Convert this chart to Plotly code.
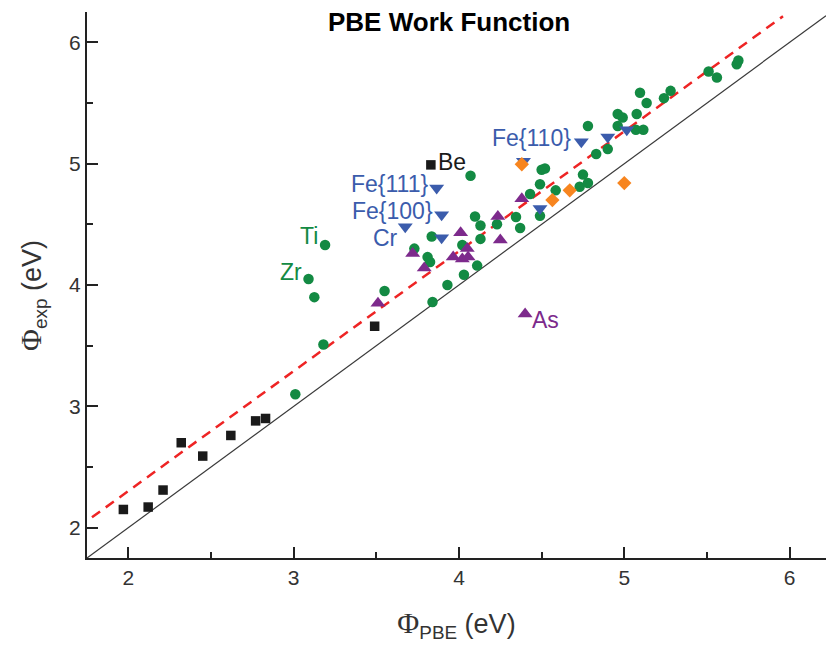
import plotly.graph_objects as go

# ---- data ----
square_x = [1.97, 2.12, 2.21, 2.32, 2.45, 2.62, 2.77, 2.83, 3.49, 3.83]
square_y = [2.15, 2.17, 2.31, 2.70, 2.59, 2.76, 2.88, 2.90, 3.66, 4.99]

circle_x = [3.01, 3.18, 3.125, 3.09, 3.19, 3.55, 3.73, 3.81, 3.825, 3.84, 3.835, 3.93,
            4.03, 4.02, 4.11, 4.13, 4.13, 4.097, 4.23, 4.345, 4.37, 4.49, 4.07, 4.43,
            4.49, 4.585, 4.50, 4.52, 4.73, 4.78, 4.75, 4.83, 4.90, 4.78, 4.96, 5.07,
            5.115, 4.96, 4.99, 5.075, 5.095, 5.135, 5.24, 5.28, 5.51, 5.56, 5.68, 5.69]
circle_y = [3.10, 3.51, 3.90, 4.05, 4.33, 3.95, 4.30, 4.23, 4.19, 3.86, 4.40, 4.00,
            4.085, 4.33, 4.16, 4.38, 4.49, 4.565, 4.50, 4.56, 4.47, 4.57, 4.90, 4.75,
            4.83, 4.78, 4.95, 4.96, 4.81, 4.84, 4.91, 5.08, 5.12, 5.31, 5.31, 5.28,
            5.28, 5.41, 5.38, 5.41, 5.585, 5.50, 5.54, 5.60, 5.76, 5.71, 5.82, 5.85]

tri_up_x = [3.51, 3.72, 3.79, 3.965, 4.01, 4.02, 4.05, 4.055, 4.235, 4.25, 4.38, 4.40]
tri_up_y = [3.85, 4.26, 4.14, 4.23, 4.43, 4.215, 4.30, 4.23, 4.565, 4.37, 4.71, 3.76]

tri_down_x = [3.865, 3.895, 3.675, 3.895, 4.39, 4.49, 4.74, 4.90, 5.015]
tri_down_y = [4.80, 4.58, 4.48, 4.39, 5.02, 4.63, 5.18, 5.22, 5.28]

diamond_x = [4.38, 4.565, 4.67, 5.00]
diamond_y = [4.995, 4.70, 4.78, 4.84]

fit_x = [1.78, 5.96]
fit_y = [2.085, 6.215]
ident_x = [1.75, 6.22]
ident_y = [1.75, 6.22]

label_text = ["Be", "Fe{111}", "Fe{100}", "Cr", "Ti", "Zr", "Fe{110}", "As"]
label_x = [3.83, 3.865, 3.895, 3.675, 3.19, 3.09, 4.74, 4.40]
label_y = [4.99, 4.80, 4.58, 4.48, 4.33, 4.05, 5.18, 3.76]

x_ticks = [2, 3, 4, 5, 6]
y_ticks = [2, 3, 4, 5, 6]

# ---- styles ----
BLACK = "#1a1a1a"
GREEN = "#138a43"
PURPLE = "#7d2a8c"
BLUE = "#3b5cac"
ORANGE = "#f7851f"
FONT = "Liberation Sans, Arial, sans-serif"

label_color = [BLACK, BLUE, BLUE, BLUE, GREEN, GREEN, BLUE, PURPLE]
label_anchor = ["left", "right", "right", "right", "right", "right", "right", "left"]
label_dx = [5, -7, -7, -5, -5, -5, -8, 5]
label_dy = [3, 4, 4, -11, 9, 7, 4, -6]

fig = go.Figure()

fig.add_trace(go.Scatter(x=ident_x, y=ident_y, mode="lines",
                         line=dict(color="#3a3a3a", width=1.2), hoverinfo="skip"))
fig.add_trace(go.Scatter(x=fit_x, y=fit_y, mode="lines",
                         line=dict(color="#ee2424", width=2.5, dash="10px,7px"), hoverinfo="skip"))

fig.add_trace(go.Scatter(x=square_x, y=square_y, mode="markers",
                         marker=dict(symbol="square", size=9.5, color=BLACK, line=dict(width=0))))
fig.add_trace(go.Scatter(x=circle_x, y=circle_y, mode="markers",
                         marker=dict(symbol="circle", size=10.5, color=GREEN, line=dict(width=0))))
fig.add_trace(go.Scatter(x=tri_up_x, y=tri_up_y, mode="markers",
                         marker=dict(symbol="triangle-up", size=13, color=PURPLE, line=dict(width=0))))
fig.add_trace(go.Scatter(x=tri_down_x, y=tri_down_y, mode="markers",
                         marker=dict(symbol="triangle-down", size=13, color=BLUE, line=dict(width=0))))
fig.add_trace(go.Scatter(x=diamond_x, y=diamond_y, mode="markers",
                         marker=dict(symbol="diamond", size=11, color=ORANGE, line=dict(width=0))))

for t, x, y, c, a, dx, dy in zip(label_text, label_x, label_y, label_color,
                                  label_anchor, label_dx, label_dy):
    fig.add_annotation(x=x, y=y, xref="x", yref="y", text=t, showarrow=False,
                       xanchor=a, yanchor="middle", xshift=dx, yshift=dy,
                       font=dict(family=FONT, size=23, color=c))

PLOT_W = 826 - 87
PLOT_H = 647 - 12 - 89

fig.add_annotation(x=(449 - 87) / PLOT_W, y=1 - (22 - 12) / PLOT_H,
                   xref="paper", yref="paper", text="<b>PBE Work Function</b>",
                   showarrow=False, xanchor="center", yanchor="middle",
                   font=dict(family=FONT, size=26, color="#000000"))

phi = '<span style="font-family:Liberation Serif, Times New Roman, serif;font-size:30px">Φ</span>'

# y-axis title placed as a rotated annotation
fig.add_annotation(x=(32 - 87) / PLOT_W, y=1 - (296 - 12) / PLOT_H,
                   xref="paper", yref="paper", text=phi + "<sub>exp</sub> (eV)",
                   showarrow=False, textangle=-90, xanchor="center", yanchor="middle",
                   font=dict(family=FONT, size=27, color="#333333"))

axis_common = dict(
    showgrid=False, zeroline=False, showline=True, linecolor="#222222", linewidth=2,
    ticks="inside", ticklen=11, tickwidth=2, tickcolor="#222222",
    tickfont=dict(family=FONT, size=21, color="#333333"),
    minor=dict(ticks="inside", ticklen=6, tickwidth=2, tickcolor="#222222", dtick=0.5, showgrid=False),
    mirror=False,
)

fig.update_layout(
    width=826, height=647,
    margin=dict(l=87, r=0, t=12, b=89),
    paper_bgcolor="white", plot_bgcolor="white",
    showlegend=False,
    xaxis=dict(range=[1.75, 6.22], tickvals=x_ticks, ticktext=[str(v) for v in x_ticks],
               title=dict(text=phi + "<sub>PBE</sub> (eV)", standoff=26,
                          font=dict(family=FONT, size=27, color="#333333")),
               **axis_common),
    yaxis=dict(range=[1.75, 6.25], tickvals=y_ticks, ticktext=[str(v) for v in y_ticks],
               **axis_common),
)

fig.write_html("out.html")
